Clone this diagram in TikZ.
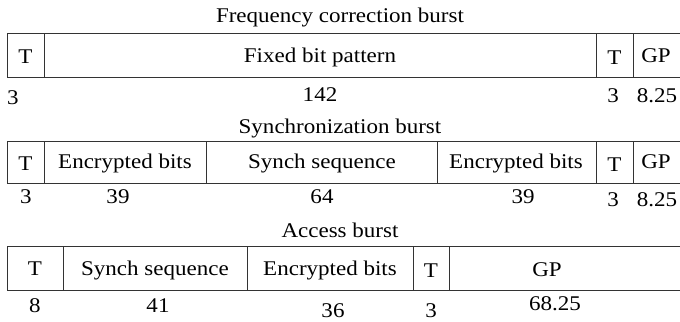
\documentclass[tikz,border=0pt]{standalone}
\usepackage{fontspec}
\setmainfont[FakeStretch=1.1]{Liberation Serif}
\begin{document}
\begin{tikzpicture}[x=1bp,y=-1bp,
  txt/.style={inner sep=0pt,font=\fontsize{21}{24}\selectfont,anchor=base},
  rule/.style={line width=0.9bp,draw=black!80}]
\useasboundingbox (0,0) rectangle (680,321);
% Row 1
\node[txt] (t1) at (340,22) {Frequency correction burst};
\draw[rule] (680,33) -- (7,33) -- (7,77) -- (680,77);
\draw[rule] (44,33) -- (44,77) (596,33) -- (596,77) (633,33) -- (633,77);
\node[txt] (a1) at (25.5,63) {T};
\node[txt] (a2) at (320,62) {Fixed bit pattern};
\node[txt] (a3) at (614.5,64) {T};
\node[txt] (a4) at (656,62) {GP};
\node[txt] (n11) at (13,104) {3};
\node[txt] (n12) at (320,101) {142};
\node[txt] (n13) at (613,102) {3};
\node[txt] (n14) at (657,102) {8.25};
% Row 2
\node[txt] (t2) at (340,133) {Synchronization burst};
\draw[rule] (680,141) -- (7,141) -- (7,183) -- (680,183);
\draw[rule] (44,141) -- (44,183) (206,141) -- (206,183) (437,141) -- (437,183) (596,141) -- (596,183) (633,141) -- (633,183);
\node[txt] (b1) at (25.5,170) {T};
\node[txt] (b2) at (125,168) {Encrypted bits};
\node[txt] (b3) at (322,168) {Synch sequence};
\node[txt] (b4) at (516,168) {Encrypted bits};
\node[txt] (b5) at (614.5,171) {T};
\node[txt] (b6) at (656,168) {GP};
\node[txt] (n21) at (26,203) {3};
\node[txt] (n22) at (118,203) {39};
\node[txt] (n23) at (322,203) {64};
\node[txt] (n24) at (523,203) {39};
\node[txt] (n25) at (613,206) {3};
\node[txt] (n26) at (657,206) {8.25};
% Row 3
\node[txt] (t3) at (340,237) {Access burst};
\draw[rule] (680,246) -- (7,246) -- (7,290) -- (680,290);
\draw[rule] (63,246) -- (63,290) (247,246) -- (247,290) (413,246) -- (413,290) (449,246) -- (449,290);
\node[txt] (c1) at (35,275) {T};
\node[txt] (c2) at (155,275) {Synch sequence};
\node[txt] (c3) at (330,275) {Encrypted bits};
\node[txt] (c4) at (431,277) {T};
\node[txt] (c5) at (547,276) {GP};
\node[txt] (n31) at (35,312) {8};
\node[txt] (n32) at (158,312) {41};
\node[txt] (n33) at (333,317) {36};
\node[txt] (n34) at (431,317) {3};
\node[txt] (n35) at (555,310) {68.25};
\end{tikzpicture}
\end{document}
